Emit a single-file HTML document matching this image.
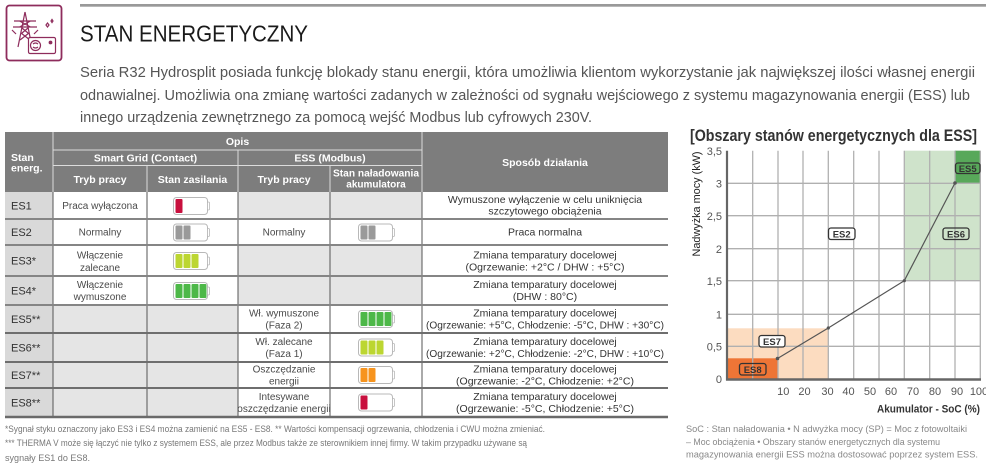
<!DOCTYPE html>
<html><head><meta charset="utf-8"><style>
html,body{margin:0;padding:0;background:#fff;}
svg{display:block;font-family:"Liberation Sans",sans-serif;}
</style></head><body>
<svg width="986" height="473" viewBox="0 0 986 473" xmlns="http://www.w3.org/2000/svg">
<rect width="986" height="473" fill="#fff"/>

<!-- icon -->
<g stroke="#8e2c5c" fill="none" stroke-width="1.2">
<rect x="6.5" y="5.5" width="55" height="55" rx="3" stroke-width="1.8"/>
<path d="M25 12 L18 47 M25 12 L32 47 M14 21 H36 M13 27 H37 M19.5 21 L30.5 27 M30.5 21 L19.5 27 M21 33 L30 40 M29 33 L20 40 M22 28 L28 33 M28 28 L22 33"/>
<path d="M12 30 L16 34 M38 30 L34 34"/>
<rect x="28.5" y="37.5" width="27" height="16" rx="1.5" fill="#fff"/>
<circle cx="35.5" cy="45.5" r="5"/>
<path d="M33 44 q2.5 -2 5 0 M33 47 q2.5 2 5 0"/>
<circle cx="50.5" cy="42.5" r="1.3" fill="#8e2c5c"/>
<path d="M46 25 l1.5 -2 l1.5 2 l-1.5 2z M51 21 l1 -1.5 l1 1.5 l-1 1.5z"/>
</g>

<!-- top bar -->
<rect x="80" y="4" width="906" height="2.7" fill="#999"/>

<!-- title & paragraph -->
<text x="80" y="41.5" font-size="23" fill="#1a1a1a" textLength="228" lengthAdjust="spacingAndGlyphs">STAN ENERGETYCZNY</text>
<g font-size="15" fill="#555">
<text x="80" y="77" textLength="895" lengthAdjust="spacingAndGlyphs">Seria R32 Hydrosplit posiada funkcję blokady stanu energii, która umożliwia klientom wykorzystanie jak największej ilości własnej energii</text>
<text x="80" y="100" textLength="890" lengthAdjust="spacingAndGlyphs">odnawialnej. Umożliwia ona zmianę wartości zadanych w zależności od sygnału wejściowego z systemu magazynowania energii (ESS) lub</text>
<text x="80" y="122" textLength="512" lengthAdjust="spacingAndGlyphs">innego urządzenia zewnętrznego za pomocą wejść Modbus lub cyfrowych 230V.</text>
</g>

<!-- TABLE -->
<rect x="5" y="132" width="663" height="60" fill="#7d7d7d"/>
<rect x="5" y="192" width="48" height="225" fill="#d9d9d9"/>
<g fill="#e5e5e5">
<rect x="238" y="192" width="184" height="27"/>
<rect x="238" y="245" width="184" height="60"/>
<rect x="53" y="305" width="185" height="112"/>
</g>
<!-- header lines -->
<g stroke="#dcdcdc" stroke-width="1">
<line x1="53" y1="132" x2="53" y2="192"/>
<line x1="422" y1="132" x2="422" y2="192"/>
<line x1="53" y1="150" x2="422" y2="150"/>
<line x1="53" y1="165.5" x2="422" y2="165.5"/>
<line x1="238" y1="150" x2="238" y2="192"/>
<line x1="147" y1="165.5" x2="147" y2="192"/>
<line x1="330" y1="165.5" x2="330" y2="192"/>
</g>
<!-- body lines -->
<g stroke="#555" stroke-width="1">
<line x1="53" y1="192" x2="53" y2="417"/>
<line x1="147" y1="192" x2="147" y2="417"/>
<line x1="238" y1="192" x2="238" y2="417"/>
<line x1="330" y1="192" x2="330" y2="417"/>
<line x1="422" y1="192" x2="422" y2="417"/>
</g>
<g stroke="#858585" stroke-width="2">
<line x1="5" y1="219" x2="668" y2="219"/>
<line x1="5" y1="245" x2="668" y2="245"/>
<line x1="5" y1="276" x2="668" y2="276"/>
<line x1="5" y1="305" x2="668" y2="305"/>
</g>
<g stroke="#6e6e6e" stroke-width="2">
<line x1="5" y1="333" x2="668" y2="333"/>
<line x1="5" y1="362" x2="668" y2="362"/>
<line x1="5" y1="388" x2="668" y2="388"/>
</g>
<line x1="5" y1="417" x2="668" y2="417" stroke="#6a6a6a" stroke-width="2.5"/>

<!-- header text -->
<g fill="#fff" font-weight="bold" font-size="10.5">
<text x="237.5" y="145" text-anchor="middle">Opis</text>
<text x="145.5" y="161.5" text-anchor="middle">Smart Grid (Contact)</text>
<text x="330" y="161.5" text-anchor="middle">ESS (Modbus)</text>
<text x="100" y="183" text-anchor="middle">Tryb pracy</text>
<text x="192.5" y="183" text-anchor="middle">Stan zasilania</text>
<text x="284" y="183" text-anchor="middle">Tryb pracy</text>
<text x="376" y="176.5" text-anchor="middle" font-size="10" textLength="86" lengthAdjust="spacingAndGlyphs">Stan naładowania</text>
<text x="376" y="187.5" text-anchor="middle" font-size="10">akumulatora</text>
<text x="11" y="161">Stan</text>
<text x="11" y="171.5">energ.</text>
<text x="545" y="166" text-anchor="middle">Sposób działania</text>
</g>

<!-- ES labels -->
<g fill="#333" font-size="11">
<text x="11" y="209.5">ES1</text>
<text x="11" y="236">ES2</text>
<text x="11" y="264.5">ES3*</text>
<text x="11" y="294.5">ES4*</text>
<text x="11" y="323">ES5**</text>
<text x="11" y="351.5">ES6**</text>
<text x="11" y="379">ES7**</text>
<text x="11" y="406.5">ES8**</text>
</g>

<!-- cell text -->
<g fill="#4a4a4a" font-size="10" text-anchor="middle">
<text x="100" y="209">Praca wyłączona</text>
<text x="100" y="235.5">Normalny</text>
<text x="284" y="235.5">Normalny</text>
<text x="100" y="258.5">Włączenie</text>
<text x="100" y="271">zalecane</text>
<text x="100" y="288">Włączenie</text>
<text x="100" y="300">wymuszone</text>
<text x="284" y="316.5">Wł. wymuszone</text>
<text x="284" y="328.5">(Faza 2)</text>
<text x="284" y="345">Wł. zalecane</text>
<text x="284" y="357">(Faza 1)</text>
<text x="284" y="372.5">Oszczędzanie</text>
<text x="284" y="384.5">energii</text>
<text x="284" y="400">Intesywane</text>
<text x="284" y="412">oszczędzanie energii</text>
</g>
<g fill="#333" font-size="10.5" text-anchor="middle">
<text x="545" y="203">Wymuszone wyłączenie w celu uniknięcia</text>
<text x="545" y="214.5">szczytowego obciążenia</text>
<text x="545" y="235.5">Praca normalna</text>
<text x="545" y="258.5">Zmiana temparatury docelowej</text>
<text x="545" y="270.5">(Ogrzewanie: +2°C / DHW : +5°C)</text>
<text x="545" y="288">Zmiana temparatury docelowej</text>
<text x="545" y="300">(DHW : 80°C)</text>
<text x="545" y="316.5">Zmiana temparatury docelowej</text>
<text x="545" y="328.5" textLength="238" lengthAdjust="spacingAndGlyphs">(Ogrzewanie: +5°C, Chłodzenie: -5°C,  DHW : +30°C)</text>
<text x="545" y="345">Zmiana temparatury docelowej</text>
<text x="545" y="357" textLength="238" lengthAdjust="spacingAndGlyphs">(Ogrzewanie: +2°C, Chłodzenie: -2°C,  DHW : +10°C)</text>
<text x="545" y="372.5">Zmiana temparatury docelowej</text>
<text x="545" y="384.5">(Ogrzewanie: -2°C, Chłodzenie: +2°C)</text>
<text x="545" y="400">Zmiana temparatury docelowej</text>
<text x="545" y="412">(Ogrzewanie: -5°C, Chłodzenie: +5°C)</text>
</g>

<!-- batteries -->
<defs>
<g id="bat">
<rect x="0.5" y="0.5" width="34" height="17" rx="3" fill="#fff" stroke="#b8b8b8" stroke-width="1"/>
<rect x="34.5" y="5" width="2" height="8" rx="1" fill="#fff" stroke="#b8b8b8" stroke-width="0.8"/>
</g>
</defs>
<!-- ES1 col3 red 1 -->
<g transform="translate(173,197)"><use href="#bat"/><rect x="2.5" y="2" width="7" height="14" rx="1" fill="#c8103e"/></g>
<!-- ES2 col3 gray 2 -->
<g transform="translate(173,223.5)"><use href="#bat"/><rect x="2.5" y="2" width="7" height="14" rx="1" fill="#9a9a9a"/><rect x="10.5" y="2" width="7" height="14" rx="1" fill="#9a9a9a"/></g>
<!-- ES2 col5 gray 2 -->
<g transform="translate(358,223.5)"><use href="#bat"/><rect x="2.5" y="2" width="7" height="14" rx="1" fill="#9a9a9a"/><rect x="10.5" y="2" width="7" height="14" rx="1" fill="#9a9a9a"/></g>
<!-- ES3 col3 yg 3 -->
<g transform="translate(173,252)"><use href="#bat"/><rect x="2.5" y="2" width="7" height="14" rx="1" fill="#bcd631"/><rect x="10.5" y="2" width="7" height="14" rx="1" fill="#bcd631"/><rect x="18.5" y="2" width="7" height="14" rx="1" fill="#bcd631"/></g>
<!-- ES4 col3 green 4 -->
<g transform="translate(173,282)"><use href="#bat"/><rect x="2.5" y="2" width="7" height="14" rx="1" fill="#4db848"/><rect x="10.5" y="2" width="7" height="14" rx="1" fill="#4db848"/><rect x="18.5" y="2" width="7" height="14" rx="1" fill="#4db848"/><rect x="26.5" y="2" width="7" height="14" rx="1" fill="#4db848"/></g>
<!-- ES5 col5 green 4 -->
<g transform="translate(358,310)"><use href="#bat"/><rect x="2.5" y="2" width="7" height="14" rx="1" fill="#4db848"/><rect x="10.5" y="2" width="7" height="14" rx="1" fill="#4db848"/><rect x="18.5" y="2" width="7" height="14" rx="1" fill="#4db848"/><rect x="26.5" y="2" width="7" height="14" rx="1" fill="#4db848"/></g>
<!-- ES6 col5 yg 3 -->
<g transform="translate(358,338.5)"><use href="#bat"/><rect x="2.5" y="2" width="7" height="14" rx="1" fill="#bcd631"/><rect x="10.5" y="2" width="7" height="14" rx="1" fill="#bcd631"/><rect x="18.5" y="2" width="7" height="14" rx="1" fill="#bcd631"/></g>
<!-- ES7 col5 orange 2 -->
<g transform="translate(358,366)"><use href="#bat"/><rect x="2.5" y="2" width="7" height="14" rx="1" fill="#f7941e"/><rect x="10.5" y="2" width="7" height="14" rx="1" fill="#f7941e"/></g>
<!-- ES8 col5 red 1 -->
<g transform="translate(358,393.5)"><use href="#bat"/><rect x="2.5" y="2" width="7" height="14" rx="1" fill="#c8103e"/></g>

<!-- footnotes left -->
<g fill="#777" font-size="9.5">
<text x="5" y="432" textLength="540" lengthAdjust="spacingAndGlyphs">*Sygnał styku oznaczony jako ES3 i ES4 można zamienić na ES5 - ES8.  ** Wartości kompensacji ogrzewania, chłodzenia i CWU można zmieniać.</text>
<text x="5" y="446" textLength="522" lengthAdjust="spacingAndGlyphs">*** THERMA V może się łączyć nie tylko z systemem ESS, ale przez Modbus także ze sterownikiem innej firmy. W takim przypadku używane są</text>
<text x="5" y="461" textLength="85" lengthAdjust="spacingAndGlyphs">sygnały ES1 do ES8.</text>
</g>

<!-- CHART -->
<text x="690" y="141" font-size="16.5" font-weight="bold" fill="#333" textLength="287" lengthAdjust="spacingAndGlyphs">[Obszary stanów energetycznych dla ESS]</text>

<rect x="904.3" y="150.7" width="76" height="130" fill="#cfe3cb"/>
<rect x="955" y="150.7" width="25.3" height="32.6" fill="#58a85a"/>
<rect x="727" y="328.3" width="101.3" height="50.7" fill="#fcdcc0"/>
<rect x="727" y="358.3" width="51" height="20.7" fill="#ee7536"/>

<g stroke="#b0b0b0" stroke-width="1.3">
<line x1="752.7" y1="150.7" x2="752.7" y2="379"/>
<line x1="778" y1="150.7" x2="778" y2="379"/>
<line x1="803" y1="150.7" x2="803" y2="379"/>
<line x1="828.3" y1="150.7" x2="828.3" y2="379"/>
<line x1="853.7" y1="150.7" x2="853.7" y2="379"/>
<line x1="879" y1="150.7" x2="879" y2="379"/>
<line x1="904.3" y1="150.7" x2="904.3" y2="379"/>
<line x1="929.7" y1="150.7" x2="929.7" y2="379"/>
<line x1="955" y1="150.7" x2="955" y2="379"/>
<line x1="980.3" y1="150.7" x2="980.3" y2="379"/>
<line x1="727" y1="183.3" x2="980.3" y2="183.3"/>
<line x1="727" y1="215.7" x2="980.3" y2="215.7"/>
<line x1="727" y1="248.7" x2="980.3" y2="248.7"/>
<line x1="727" y1="280.7" x2="980.3" y2="280.7"/>
<line x1="727" y1="314.3" x2="980.3" y2="314.3"/>
<line x1="727" y1="346.3" x2="980.3" y2="346.3"/>
</g>
<line x1="727" y1="150.7" x2="727" y2="380.5" stroke="#666" stroke-width="2.2"/>
<line x1="726" y1="379.5" x2="981" y2="379.5" stroke="#666" stroke-width="2.5"/>

<polyline points="777.5,358.5 828.3,328 904.3,280.7 955,183" fill="none" stroke="#555" stroke-width="1.2"/>
<g fill="#555">
<circle cx="777.5" cy="358.5" r="1.8"/>
<circle cx="828.3" cy="328" r="1.6"/>
<circle cx="904.3" cy="280.7" r="1.6"/>
<circle cx="955" cy="183" r="1.8"/>
</g>

<!-- region labels -->
<g stroke="#333" stroke-width="1.3" fill="none">
<rect x="828.5" y="228" width="26.5" height="11.5" rx="2.5" fill="#fff"/>
<rect x="943" y="228" width="26" height="11.5" rx="2.5"/>
<rect x="955.5" y="163" width="24.5" height="10.5" rx="2.5"/>
<rect x="759" y="335.5" width="26" height="11.5" rx="2.5" fill="#fff"/>
<rect x="739.5" y="363.5" width="26.5" height="11.5" rx="2.5"/>
</g>
<g fill="#333" font-size="9.5" font-weight="bold" text-anchor="middle">
<text x="841.7" y="237.3">ES2</text>
<text x="956" y="237.3">ES6</text>
<text x="967.7" y="171.8">ES5</text>
<text x="772" y="344.8">ES7</text>
<text x="752.7" y="372.8">ES8</text>
</g>

<!-- y ticks -->
<g fill="#555" font-size="11" text-anchor="end">
<text x="722" y="155">3,5</text>
<text x="722" y="187.5">3</text>
<text x="722" y="220">2,5</text>
<text x="722" y="253">2</text>
<text x="722" y="285">1,5</text>
<text x="722" y="318.5">1</text>
<text x="722" y="350.5">0,5</text>
<text x="722" y="383">0</text>
</g>
<!-- x ticks -->
<g fill="#555" font-size="11" text-anchor="middle">
<text x="783.3" y="395">10</text>
<text x="804.5" y="395">20</text>
<text x="827.5" y="395">30</text>
<text x="848.5" y="395">40</text>
<text x="870" y="395">50</text>
<text x="891" y="395">60</text>
<text x="913" y="395">70</text>
<text x="935" y="395">80</text>
<text x="957" y="395">90</text>
<text x="979" y="395">100</text>
</g>
<text x="980" y="412.5" font-size="11" font-weight="bold" fill="#333" text-anchor="end" textLength="103" lengthAdjust="spacingAndGlyphs">Akumulator - SoC (%)</text>
<text transform="translate(700,204) rotate(-90)" font-size="11" fill="#222" text-anchor="middle" textLength="105" lengthAdjust="spacingAndGlyphs">Nadwyżka mocy (kW)</text>

<!-- footnote right -->
<g fill="#888" font-size="9.5">
<text x="686" y="432" textLength="281" lengthAdjust="spacingAndGlyphs">SoC : Stan naładowania • N adwyżka mocy (SP) = Moc z fotowoltaiki</text>
<text x="686" y="445" textLength="254" lengthAdjust="spacingAndGlyphs">– Moc obciążenia • Obszary stanów energetycznych dla systemu</text>
<text x="686" y="457.5" textLength="292" lengthAdjust="spacingAndGlyphs">magazynowania energii ESS można dostosować poprzez system ESS.</text>
</g>
</svg>
</body></html>
